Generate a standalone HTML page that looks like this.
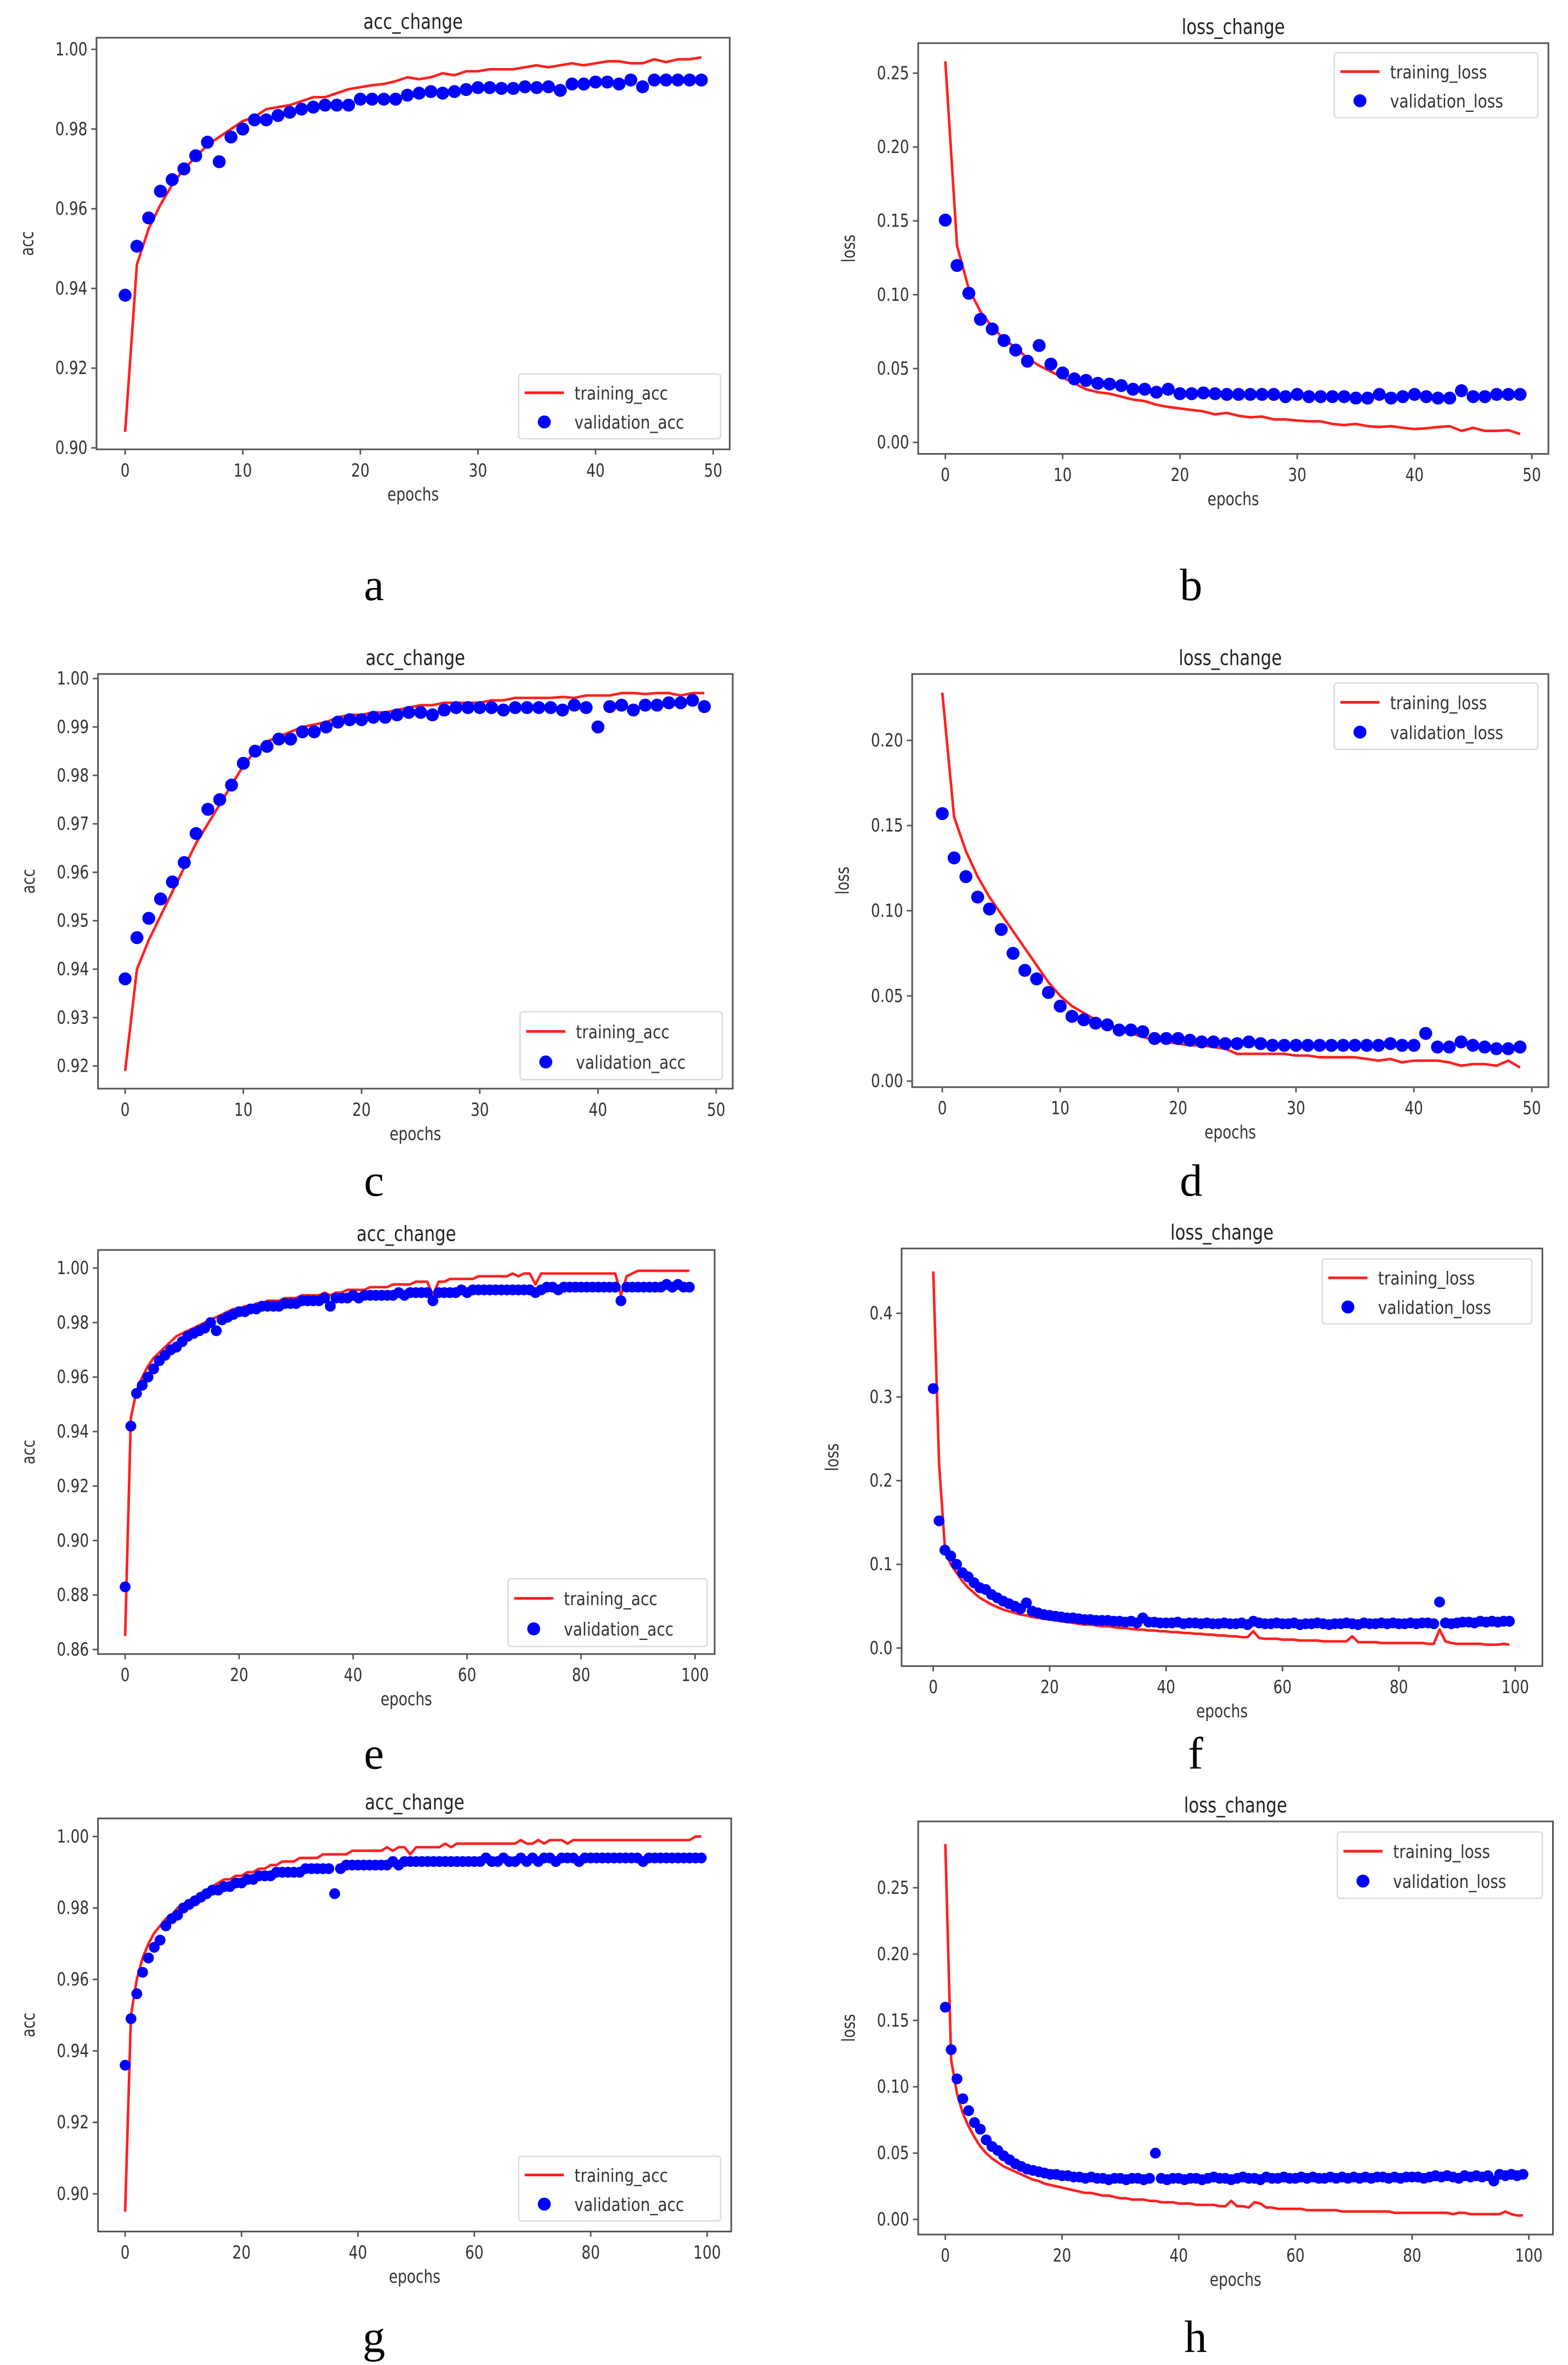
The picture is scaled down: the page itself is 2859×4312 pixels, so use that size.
<!DOCTYPE html>
<html><head><meta charset="utf-8"><title>Training curves</title>
<style>html,body{margin:0;padding:0;background:#fff}svg{display:block}</style></head>
<body>
<svg id="fig" xmlns="http://www.w3.org/2000/svg" width="2859" height="4312" viewBox="0 0 1040 1568.5"></svg>
<script>
// ---------- data ----------
const aTrain=[.904,.946,.955,.961,.966,.970,.973,.976,.978,.980,.982,.983,.985,.9855,.986,.987,.988,.988,.989,.990,.9905,.991,.9913,.992,.993,.9925,.993,.994,.9935,.9945,.9945,.995,.995,.995,.9955,.996,.9955,.996,.9965,.996,.9965,.997,.997,.9965,.9965,.9975,.9968,.9975,.9975,.998];
const aVal=[.9383,.9506,.9577,.9644,.9673,.970,.9733,.9767,.9718,.978,.980,.9823,.9823,.9834,.9842,.985,.9855,.986,.986,.986,.9875,.9875,.9875,.9875,.9885,.989,.9894,.989,.9894,.9899,.9904,.9904,.9902,.9902,.9906,.9904,.9906,.9897,.9913,.9913,.9918,.9918,.9913,.9923,.9906,.9923,.9923,.9923,.9923,.9923];
const bTrain=[.258,.133,.104,.0885,.078,.070,.064,.057,.052,.048,.044,.040,.036,.034,.033,.031,.029,.028,.0255,.024,.023,.022,.021,.019,.020,.018,.017,.0175,.0156,.0156,.0148,.0143,.0143,.0125,.0117,.0125,.011,.0104,.011,.0099,.009,.0096,.0104,.011,.0078,.0099,.0078,.0078,.0083,.0057];
const bVal=[.1505,.1198,.101,.0833,.0768,.069,.0625,.055,.0656,.053,.047,.043,.042,.040,.0395,.0385,.036,.036,.034,.036,.033,.033,.0335,.033,.0325,.0325,.0325,.0325,.0325,.031,.0325,.031,.031,.031,.031,.030,.030,.0325,.030,.031,.0325,.031,.030,.030,.035,.031,.031,.0325,.0325,.0325];
const cTrain=[.919,.940,.946,.951,.956,.961,.966,.970,.974,.978,.982,.985,.987,.988,.989,.990,.9905,.991,.992,.9925,.9925,.993,.993,.9935,.994,.9945,.9945,.995,.995,.995,.995,.9955,.9955,.996,.996,.996,.996,.9962,.996,.9965,.9965,.9965,.997,.997,.9968,.997,.997,.9965,.997,.997];
const cVal=[.938,.9465,.9505,.9545,.958,.962,.968,.973,.975,.978,.9825,.985,.986,.9875,.9875,.989,.989,.990,.991,.9915,.9915,.992,.992,.9925,.993,.993,.9925,.9935,.994,.994,.994,.994,.9935,.994,.994,.994,.994,.9935,.9945,.994,.990,.9942,.9945,.9935,.9945,.9945,.995,.995,.9955,.9942];
const dTrain=[.228,.155,.135,.120,.108,.098,.088,.078,.068,.058,.050,.044,.040,.036,.033,.031,.028,.026,.024,.023,.022,.021,.021,.020,.019,.016,.016,.016,.016,.016,.015,.015,.014,.014,.014,.014,.013,.012,.013,.011,.012,.012,.012,.011,.009,.010,.010,.009,.012,.008];
const dVal=[.157,.131,.120,.108,.101,.089,.075,.065,.060,.052,.044,.038,.036,.034,.033,.030,.030,.029,.025,.025,.025,.024,.023,.023,.022,.022,.023,.022,.021,.021,.021,.021,.021,.021,.021,.021,.021,.021,.022,.021,.021,.028,.020,.020,.023,.021,.020,.019,.019,.020];
const eTrain=[.865,.945,.955,.960,.964,.967,.969,.971,.973,.975,.976,.977,.978,.979,.980,.981,.982,.983,.984,.985,.985,.986,.986,.987,.987,.988,.988,.988,.989,.989,.989,.990,.990,.990,.990,.991,.990,.991,.991,.992,.992,.992,.992,.993,.993,.993,.993,.994,.994,.994,.994,.995,.995,.995,.990,.995,.995,.996,.996,.996,.996,.996,.997,.997,.997,.997,.997,.997,.998,.997,.998,.998,.994,.998,.998,.998,.998,.998,.998,.998,.998,.998,.998,.998,.998,.998,.998,.990,.997,.998,.999,.999,.999,.999,.999,.999,.999,.999,.999,.999];
const eVal=[.883,.942,.954,.957,.960,.963,.966,.968,.970,.971,.973,.975,.976,.977,.978,.980,.977,.981,.982,.983,.984,.984,.985,.985,.986,.986,.986,.986,.987,.987,.987,.988,.988,.988,.988,.989,.986,.989,.989,.989,.990,.989,.990,.990,.990,.990,.990,.990,.991,.990,.991,.991,.991,.991,.988,.991,.991,.991,.991,.992,.991,.992,.992,.992,.992,.992,.992,.992,.992,.992,.992,.992,.991,.992,.993,.993,.992,.993,.993,.993,.993,.993,.993,.993,.993,.993,.993,.988,.993,.993,.993,.993,.993,.993,.993,.994,.993,.994,.993,.993];
const fTrain=[.450,.220,.120,.100,.090,.080,.072,.066,.060,.056,.052,.049,.046,.044,.042,.040,.039,.037,.036,.035,.034,.033,.032,.031,.030,.029,.028,.028,.027,.026,.026,.025,.024,.024,.023,.022,.022,.021,.021,.020,.020,.019,.019,.018,.018,.017,.017,.016,.016,.015,.015,.014,.014,.013,.013,.020,.012,.011,.011,.011,.010,.010,.010,.009,.009,.009,.009,.008,.008,.008,.008,.008,.014,.007,.007,.007,.007,.006,.006,.006,.006,.006,.006,.006,.006,.005,.005,.022,.008,.006,.005,.005,.005,.005,.005,.004,.004,.004,.005,.004];
const fVal=[.310,.152,.117,.110,.100,.090,.085,.078,.072,.070,.064,.060,.056,.053,.050,.047,.054,.044,.042,.040,.039,.038,.037,.036,.036,.035,.034,.034,.033,.033,.033,.032,.032,.031,.032,.030,.036,.031,.031,.030,.030,.030,.031,.029,.030,.030,.029,.030,.029,.029,.030,.029,.029,.030,.028,.032,.030,.029,.029,.030,.029,.029,.030,.028,.029,.029,.030,.029,.028,.029,.029,.030,.029,.028,.030,.029,.029,.030,.029,.030,.029,.029,.030,.029,.030,.030,.029,.055,.030,.029,.030,.031,.031,.030,.032,.031,.032,.031,.032,.032];
const gTrain=[.895,.950,.960,.966,.970,.973,.975,.977,.978,.980,.981,.982,.983,.984,.985,.986,.987,.988,.988,.989,.989,.990,.990,.991,.991,.992,.992,.993,.993,.993,.994,.994,.994,.994,.995,.995,.995,.995,.995,.996,.996,.996,.996,.996,.996,.997,.996,.997,.997,.995,.997,.997,.997,.997,.997,.998,.997,.998,.998,.998,.998,.998,.998,.998,.998,.998,.998,.998,.999,.998,.998,.999,.998,.999,.999,.999,.998,.999,.999,.999,.999,.999,.999,.999,.999,.999,.999,.999,.999,.999,.999,.999,.999,.999,.999,.999,.999,.999,1.0,1.0];
const gVal=[.936,.949,.956,.962,.966,.969,.971,.975,.977,.978,.980,.981,.982,.983,.984,.985,.985,.986,.986,.987,.987,.988,.988,.989,.989,.989,.990,.990,.990,.990,.990,.991,.991,.991,.991,.991,.984,.991,.992,.992,.992,.992,.992,.992,.992,.992,.993,.992,.993,.993,.993,.993,.993,.993,.993,.993,.993,.993,.993,.993,.993,.993,.994,.993,.993,.994,.993,.993,.994,.993,.994,.993,.994,.994,.993,.994,.994,.994,.993,.994,.994,.994,.994,.994,.994,.994,.994,.994,.994,.993,.994,.994,.994,.994,.994,.994,.994,.994,.994,.994];
const hTrain=[.283,.120,.095,.080,.070,.062,.055,.050,.046,.043,.040,.038,.036,.034,.032,.030,.029,.027,.026,.025,.024,.023,.022,.021,.020,.020,.019,.018,.018,.017,.016,.016,.015,.015,.015,.014,.014,.013,.013,.013,.012,.012,.012,.011,.011,.011,.011,.010,.010,.014,.010,.010,.009,.013,.012,.009,.009,.008,.008,.008,.008,.008,.007,.007,.007,.007,.007,.007,.006,.006,.006,.006,.006,.006,.006,.006,.006,.005,.005,.005,.005,.005,.005,.005,.005,.005,.005,.004,.005,.005,.004,.004,.004,.004,.004,.004,.006,.004,.003,.003];
const hVal=[.160,.128,.106,.091,.082,.073,.068,.060,.055,.052,.048,.045,.042,.040,.038,.037,.036,.035,.034,.034,.033,.033,.032,.032,.031,.032,.031,.031,.030,.031,.031,.030,.031,.031,.030,.031,.050,.031,.030,.031,.031,.030,.031,.031,.030,.031,.032,.031,.031,.030,.031,.032,.031,.031,.030,.032,.031,.031,.032,.031,.031,.032,.031,.032,.031,.031,.032,.031,.032,.031,.032,.031,.032,.031,.032,.032,.031,.032,.031,.032,.032,.032,.031,.032,.033,.032,.033,.032,.031,.033,.032,.033,.032,.033,.029,.034,.033,.034,.033,.034];
const accTicks50=['0.90','0.92','0.94','0.96','0.98','1.00'];
const accTicksC=['0.92','0.93','0.94','0.95','0.96','0.97','0.98','0.99','1.00'];
const accTicksE=['0.86','0.88','0.90','0.92','0.94','0.96','0.98','1.00'];
const lossTicksB=['0.00','0.05','0.10','0.15','0.20','0.25'];
const lossTicksD=['0.00','0.05','0.10','0.15','0.20'];
const lossTicksF=['0.0','0.1','0.2','0.3','0.4'];
const xTicks50=['0','10','20','30','40','50'];
const xTicks100=['0','20','40','60','80','100'];

// ---------- layout ----------
const panels=[
 {id:'a',title:'acc_change',yl:'acc',tr:aTrain,va:aVal,trn:'training_acc',van:'validation_acc',yt:accTicks50,xt:xTicks50,
  box:[64,25,484,298],x0:83,x1:473,xmax:50,y0:297,y1:32.7,ymin:0.90,ymax:1.00,leg:[344,248,478,291],lt:[248,390],r:4.3},
 {id:'b',title:'loss_change',yl:'loss',tr:bTrain,va:bVal,trn:'training_loss',van:'validation_loss',yt:lossTicksB,xt:xTicks50,
  box:[609,28.6,1027,301],x0:627,x1:1016,xmax:50,y0:293.4,y1:48.5,ymin:0,ymax:0.25,leg:[885,35,1020,78],lt:[790,390],r:4.3},
 {id:'c',title:'acc_change',yl:'acc',tr:cTrain,va:cVal,trn:'training_acc',van:'validation_acc',yt:accTicksC,xt:xTicks50,
  box:[65,447,486,722],x0:83,x1:475,xmax:50,y0:707,y1:450,ymin:0.92,ymax:1.00,leg:[345,671,479,716],lt:[248,785],r:4.3},
 {id:'d',title:'loss_change',yl:'loss',tr:dTrain,va:dVal,trn:'training_loss',van:'validation_loss',yt:lossTicksD,xt:xTicks50,
  box:[605,447,1027,721],x0:625,x1:1016,xmax:50,y0:717,y1:491,ymin:0,ymax:0.20,leg:[885,453,1020,497],lt:[790,785],r:4.3},
 {id:'e',title:'acc_change',yl:'acc',tr:eTrain,va:eVal,trn:'training_acc',van:'validation_acc',yt:accTicksE,xt:xTicks100,
  box:[65,829,474,1097],x0:83,x1:461,xmax:100,y0:1094,y1:841,ymin:0.86,ymax:1.00,leg:[337,1047,469,1092],lt:[248,1165],r:3.6},
 {id:'f',title:'loss_change',yl:'loss',tr:fTrain,va:fVal,trn:'training_loss',van:'validation_loss',yt:lossTicksF,xt:xTicks100,
  box:[598,828,1023,1105],x0:619,x1:1005,xmax:100,y0:1093,y1:871,ymin:0,ymax:0.4,leg:[877,835,1016,878],lt:[793,1165],r:3.6},
 {id:'g',title:'acc_change',yl:'acc',tr:gTrain,va:gVal,trn:'training_acc',van:'validation_acc',yt:accTicks50,xt:xTicks100,
  box:[65,1206,485,1480],x0:83,x1:469,xmax:100,y0:1455,y1:1218,ymin:0.90,ymax:1.00,leg:[344,1430,478,1473],lt:[248,1552],r:3.6},
 {id:'h',title:'loss_change',yl:'loss',tr:hTrain,va:hVal,trn:'training_loss',van:'validation_loss',yt:lossTicksB,xt:xTicks100,
  box:[609,1208,1030,1482],x0:627,x1:1014,xmax:100,y0:1472,y1:1252,ymin:0,ymax:0.25,leg:[887,1215,1023,1259],lt:[793,1552],r:3.6}
];
const NS='http://www.w3.org/2000/svg';
const svg=document.getElementById('fig');
function mk(tag,attrs,parent){const e=document.createElementNS(NS,tag);for(const k in attrs)e.setAttribute(k,attrs[k]);(parent||svg).appendChild(e);return e;}
function txt(parent,x,y,s,size,anchor,color,sx,rot){
  const t=mk('text',{transform:'translate('+x+','+y+')'+(rot?' rotate(-90)':'')+' scale('+(sx||0.8)+',1)','font-family':'DejaVu Sans, Liberation Sans, sans-serif','font-size':size,'text-anchor':anchor||'start',fill:color||'#333'},parent);
  t.textContent=s;return t;
}
panels.forEach(p=>{
  const g=mk('g',{});
  
  
  const X=v=>p.x0+(p.x1-p.x0)*v/p.xmax;
  const Y=v=>p.y0+(p.y1-p.y0)*(v-p.ymin)/(p.ymax-p.ymin);
  const [L,T,R,B]=p.box;
  p.yt.forEach(s=>{const y=Y(parseFloat(s));
    const tk=mk('line',{x1:L-3.5,x2:L,y1:y,y2:y,stroke:'#555','stroke-width':1},g);
    
    
    const lb=txt(g,L-6,y+4,s,12,'end');
    
    
  });
  p.xt.forEach(s=>{const x=X(parseFloat(s));
    const tk=mk('line',{x1:x,x2:x,y1:B,y2:B+3.5,stroke:'#555','stroke-width':1},g);
    
    
    const lb=txt(g,x,B+18,s,12,'middle');
    
    
  });
  const pts=p.tr.map((v,i)=>X(i).toFixed(2)+','+Y(v).toFixed(2)).join(' ');
  const pl=mk('polyline',{points:pts,fill:'none',stroke:'#ff2020','stroke-width':1.7,'stroke-linejoin':'round'},g);
  
  
  p.va.forEach((v,i)=>{
    const c=mk('circle',{cx:X(i),cy:Y(v),r:p.r,fill:'#0000ff'},g);
    
    
  });
  const fr=mk('rect',{x:L,y:T,width:R-L,height:B-T,fill:'none',stroke:'#555','stroke-width':1.1},g);
  
  
  const ti=txt(g,(L+R)/2,T-6,p.title,14,'middle','#222');
  
  
  const xl=txt(g,(L+R)/2,B+34,'epochs',12,'middle');
  
  
  const yl=txt(g,L-42,(T+B)/2,p.yl,12,'middle','#333',0.8,true);
  
  
  const [lx0,ly0,lx1,ly1]=p.leg;
  const lg=mk('g',{},g);
  
  
  mk('rect',{x:lx0,y:ly0,width:lx1-lx0,height:ly1-ly0,rx:2,fill:'#fff',stroke:'#ddd','stroke-width':1},lg);
  const r1=ly0+(ly1-ly0)*0.29, r2=ly0+(ly1-ly0)*0.74;
  mk('line',{x1:lx0+4,x2:lx0+30,y1:r1,y2:r1,stroke:'#ff2020','stroke-width':1.8},lg);
  mk('circle',{cx:lx0+17,cy:r2,r:4.3,fill:'#0000ff'},lg);
  const t1=txt(lg,lx0+37,r1+4.5,p.trn,12,'start','#333',0.85);
  
  
  const t2=txt(lg,lx0+37,r2+4.5,p.van,12,'start','#333',0.85);
  
  
  const le=mk('text',{x:p.lt[0],y:p.lt[1]+8,'font-family':'Liberation Serif, serif','font-size':30,'text-anchor':'middle',fill:'#000'},svg);
  le.textContent=p.id;
  
  
});
</script>
</body></html>
